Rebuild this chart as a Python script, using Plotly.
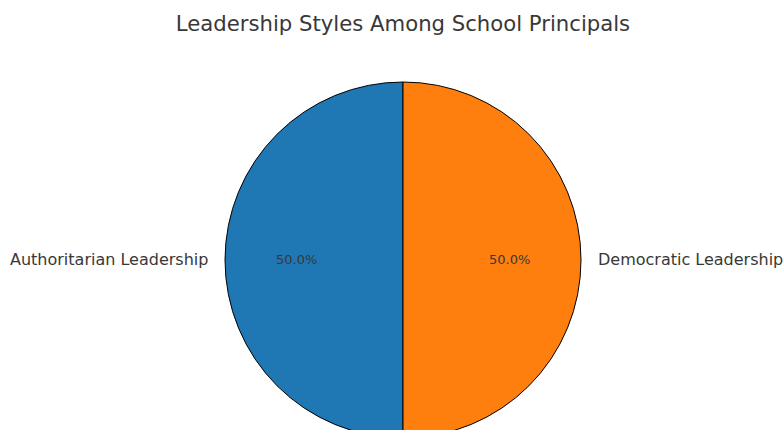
import math
import plotly.graph_objects as go

# Share of principals by leadership style
styles = ["Authoritarian Leadership", "Democratic Leadership"]
shares = [50, 50]
colors = ["#1f77b4", "#ff7f0e"]

W, H = 783, 440
CX, CY, R = 403, 260, 178          # pie centre / radius in pixels (from top-left)
FONT = "DejaVu Sans"
TEXT = "#383838"

dom_x = [(CX - R) / W, (CX + R) / W]
dom_y = [(H - CY - R) / H, (H - CY + R) / H]

# first slice starts at 6 o'clock and runs clockwise, filling the left half
fig = go.Figure(go.Pie(
    labels=styles,
    values=shares,
    sort=False,
    direction="clockwise",
    rotation=180,
    marker=dict(colors=colors, line=dict(color="black", width=1)),
    textinfo="none",
    hoverinfo="label+percent",
    domain=dict(x=dom_x, y=dom_y),
    showlegend=False,
))

# slice labels at ~1.1 r and percentages at 0.6 r, at each slice's mid-angle
total = sum(shares)
start = 270.0
for name, v in zip(styles, shares):
    span = 360.0 * v / total
    mid = math.radians(start - span / 2)
    start -= span
    c, s = math.cos(mid), math.sin(mid)
    rl = 1.1 * R - 3
    fig.add_annotation(
        x=(CX + rl * c) / W, y=(H - CY + rl * s) / H,
        xref="paper", yref="paper", showarrow=False,
        text=name, xanchor="left" if c > 0 else "right", yanchor="middle",
        font=dict(family=FONT, size=16, color=TEXT),
    )
    fig.add_annotation(
        x=(CX + 0.6 * R * c) / W, y=(H - CY + 0.6 * R * s) / H,
        xref="paper", yref="paper", showarrow=False,
        text=f"{100.0 * v / total:.1f}%", xanchor="center", yanchor="middle",
        font=dict(family=FONT, size=13, color=TEXT),
    )

fig.update_layout(
    width=W, height=H,
    margin=dict(l=0, r=0, t=0, b=0),
    paper_bgcolor="white", plot_bgcolor="white",
    title=dict(text="Leadership Styles Among School Principals",
               x=403 / W, xanchor="center", y=1 - 24 / H, yanchor="middle",
               font=dict(family=FONT, size=21.2, color=TEXT)),
)

fig.write_html("out.html",
               post_script="document.documentElement.style.overflow='hidden';"
                           "document.body.style.overflow='hidden';"
                           "document.body.style.margin='0';")
